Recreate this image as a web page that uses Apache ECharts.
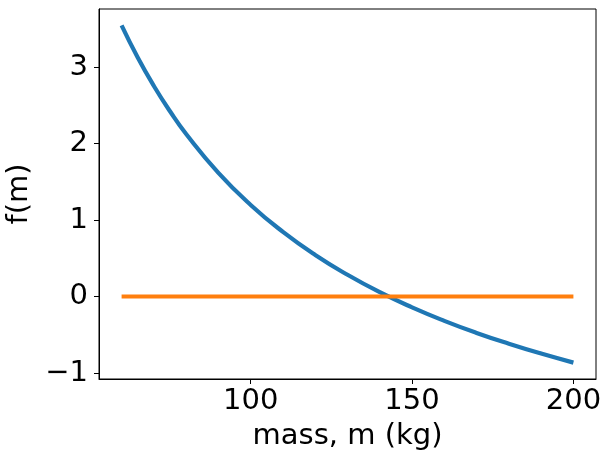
<!DOCTYPE html>
<html>
<head>
<meta charset="utf-8">
<script src="https://cdn.jsdelivr.net/npm/echarts@6/dist/echarts.min.js"></script>
<style>html,body{margin:0;padding:0;background:#fff}#c{width:612px;height:462px}</style>
</head>
<body>
<div id="c"></div>
<script>
const masses = [60, 65, 70, 75, 80, 90, 100, 110, 120, 130, 140, 150, 160, 170, 180, 190, 200];
const fValues = [3.544, 3.124, 2.752, 2.421, 2.125, 1.617, 1.197, 0.845, 0.543, 0.284, 0.056, -0.142, -0.318, -0.476, -0.617, -0.746, -0.864];
const zeroX = [60, 200];
const zeroY = [0, 0];
const xTicks = [100, 150, 200];
const yTicks = [-1, 0, 1, 2, 3];
const xLabel = 'mass, m (kg)';
const yLabel = 'f(m)';

const font = 'DejaVu Sans';
const fs = 29;
const chart = echarts.init(document.getElementById('c'), null, {renderer: 'canvas'});
chart.setOption({
  animation: false,
  backgroundColor: '#fff',
  grid: {left: 99, top: 9, right: 16, bottom: 83, containLabel: false, outerBoundsMode: 'none',
    show: true, borderColor: '#000', borderWidth: 1, backgroundColor: 'transparent'},
  xAxis: {
    type: 'value', min: 53, max: 207,
    name: xLabel, nameLocation: 'middle', nameGap: 43,
    nameTextStyle: {fontFamily: font, fontSize: fs, color: '#000'},
    axisLine: {show: true, onZero: false, lineStyle: {color: '#000', width: 1}},
    axisTick: {show: true, inside: false, length: 5, customValues: xTicks, lineStyle: {color: '#000'}},
    axisLabel: {customValues: xTicks, margin: 8, fontFamily: font, fontSize: fs, color: '#000'},
    splitLine: {show: false}
  },
  yAxis: {
    type: 'value', min: -1.078, max: 3.758,
    name: yLabel, nameLocation: 'middle', nameGap: 62, nameRotate: 90,
    nameTextStyle: {fontFamily: font, fontSize: fs, color: '#000'},
    axisLine: {show: true, onZero: false, lineStyle: {color: '#000', width: 1}},
    axisTick: {show: true, inside: false, length: 5, customValues: yTicks, lineStyle: {color: '#000'}},
    axisLabel: {customValues: yTicks, margin: 11, fontFamily: font, fontSize: fs, color: '#000',
      formatter: v => (v < 0 ? '\u2212' + Math.abs(v) : String(v))},
    splitLine: {show: false}
  },
  series: [
    {type: 'line', data: masses.map((m, i) => [m, fValues[i]]), smooth: true, showSymbol: false,
     lineStyle: {color: '#1f77b4', width: 4.2}, itemStyle: {color: '#1f77b4'}},
    {type: 'line', data: zeroX.map((m, i) => [m, zeroY[i]]), showSymbol: false,
     lineStyle: {color: '#ff7f0e', width: 4.2}, itemStyle: {color: '#ff7f0e'}}
  ]
});
</script>
</body>
</html>
